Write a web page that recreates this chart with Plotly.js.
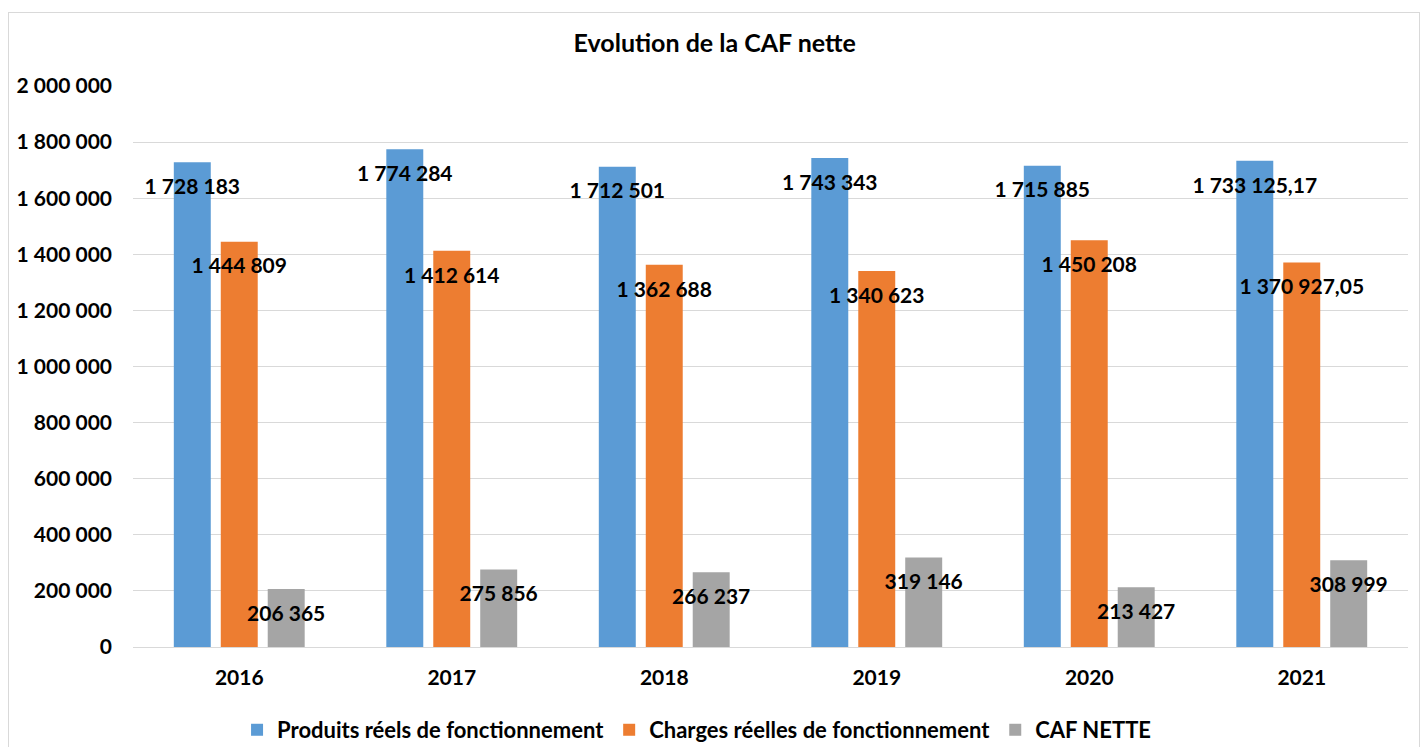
<!DOCTYPE html>
<html>
<head>
<meta charset="utf-8">
<script src="https://cdn.plot.ly/plotly-3.0.1.min.js"></script>
<style>
  body { margin: 0; background: #fff; }
  #chart { position: absolute; left: 0; top: 0; width: 1421px; height: 747px; }
  #frame { position: absolute; left: 8px; top: 12px; width: 1410px; height: 745px;
           border: 1px solid #d9d9d9; pointer-events: none; }
</style>
</head>
<body>
<div id="chart"></div>
<div id="frame"></div>
<script>
const years = ["2016", "2017", "2018", "2019", "2020", "2021"];
const produits = [1728183, 1774284, 1712501, 1743343, 1715885, 1733125.17];
const charges = [1444809, 1412614, 1362688, 1340623, 1450208, 1370927.05];
const caf_nette = [206365, 275856, 266237, 319146, 213427, 308999];

const series_names = [
  "Produits réels de fonctionnement",
  "Charges réelles de fonctionnement",
  "CAF NETTE"
];
const series_values = [produits, charges, caf_nette];
const series_colors = ["#5B9BD5", "#ED7D31", "#A5A5A5"];

const font_family = "Lato, 'Open Sans', sans-serif";
const bar_gap = 0.337;

let data = [];

// bars
series_values.forEach((ys, i) => {
  data.push({
    type: "bar",
    name: series_names[i],
    x: years,
    y: ys,
    marker: { color: series_colors[i] },
    hoverinfo: "x+y+name"
  });
});

// data labels, grouped to sit on top of each bar
series_values.forEach((ys, i) => {
  data.push({
    type: "scatter",
    mode: "markers+text",
    x: years,
    y: ys,
    orientation: "v",
    texttemplate: "%{y:,}",
    textposition: "bottom center",
    textfont: { family: font_family, size: 21, color: "#000", weight: "bold" },
    marker: { size: 24, color: "rgba(0,0,0,0)" },
    cliponaxis: false,
    showlegend: false,
    hoverinfo: "skip"
  });
});

let layout = {
  width: 1421,
  height: 747,
  margin: { l: 133, r: 13, t: 86, b: 100, pad: 0 },
  paper_bgcolor: "#fff",
  plot_bgcolor: "#fff",
  separators: ", ",
  font: { family: font_family, color: "#000", size: 21, weight: "bold" },
  title: {
    text: "Evolution de la CAF nette",
    font: { family: font_family, size: 25, color: "#000", weight: "bold" },
    x: 0.503,
    xanchor: "center",
    y: 0.942,
    yanchor: "middle"
  },
  barmode: "group",
  bargap: bar_gap,
  bargroupgap: 0.213,
  scattermode: "group",
  scattergap: bar_gap,
  xaxis: {
    type: "category",
    showgrid: false,
    showline: true,
    linecolor: "#d9d9d9",
    linewidth: 1,
    ticks: "",
    ticklabelstandoff: 12,
    tickfont: { family: font_family, size: 21, color: "#000", weight: "bold" }
  },
  yaxis: {
    range: [0, 2000000],
    dtick: 200000,
    tickformat: ",d",
    showgrid: true,
    gridcolor: "#d9d9d9",
    gridwidth: 1,
    zeroline: false,
    showline: false,
    ticks: "",
    ticklabelstandoff: 20,
    tickfont: { family: font_family, size: 21, color: "#000", weight: "bold" },
    fixedrange: true
  },
  showlegend: true,
  legend: {
    orientation: "h",
    x: 0.442,
    xanchor: "center",
    xref: "paper",
    y: 0.0228,
    yref: "container",
    yanchor: "middle",
    font: { family: font_family, size: 22, color: "#000", weight: "bold" },
    itemwidth: 30,
    traceorder: "normal"
  }
};

Plotly.newPlot("chart", data, layout, { displayModeBar: false });
</script>
</body>
</html>
